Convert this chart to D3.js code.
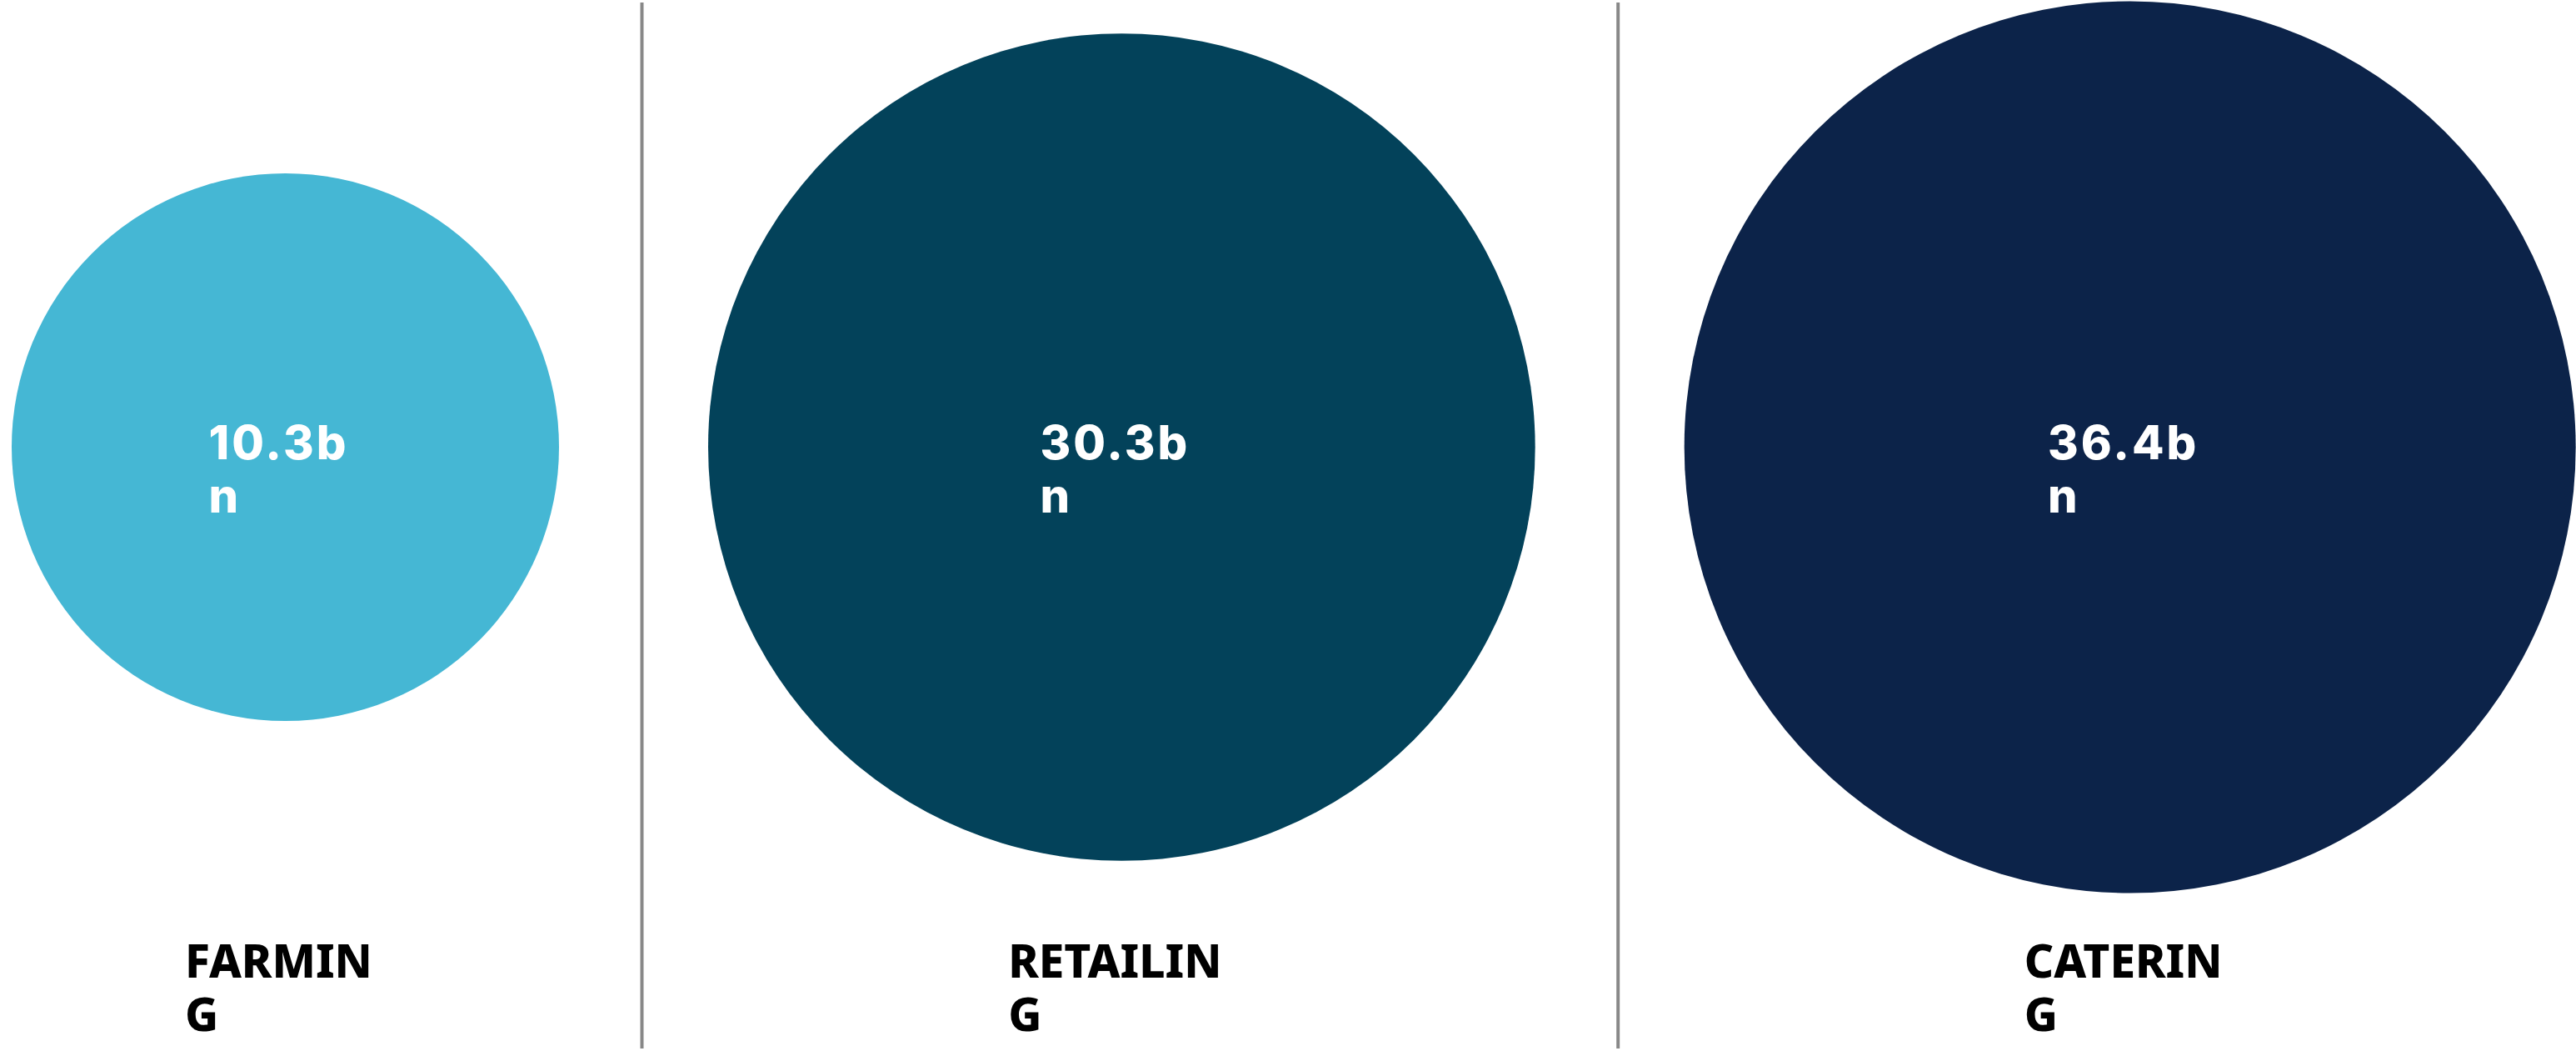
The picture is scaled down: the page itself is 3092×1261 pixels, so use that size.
<!DOCTYPE html>
<html>
<head>
<meta charset="UTF-8">
<title>sectors</title>
<script src="https://cdn.jsdelivr.net/npm/d3@7"></script>
<style>
  html, body { margin: 0; padding: 0; background: #fff; }
</style>
</head>
<body>
<svg width="3092" height="1261"></svg>
<script>
  // data
  var sectors = ["FARMING", "RETAILING", "CATERING"];
  var values = [10.3, 30.3, 36.4];
  var valueLabels = ["10.3bn", "30.3bn", "36.4bn"];
  var colors = ["#45b7d4", "#03425a", "#0c2349"];

  var svg = d3.select("svg");
  var width = +svg.attr("width");
  var height = +svg.attr("height");

  var left = 14, gap = 179, cy = 536.5;

  // radius grows with sqrt of value
  var r = d3.scalePow().exponent(0.5)
    .domain(d3.extent(values))
    .range([328.5, 535]);

  // lay circles out one after another
  var nodes = [];
  var x = left;
  values.forEach(function(v, i) {
    var rad = r(v);
    nodes.push({name: sectors[i], value: v, label: valueLabels[i], color: colors[i], r: rad, cx: x + rad});
    x += rad * 2 + gap;
  });

  // dividers
  svg.append("g").selectAll("line")
    .data(nodes.slice(0, -1))
    .enter().append("line")
    .attr("x1", function(d) { return d.cx + d.r + gap / 2 + 10; })
    .attr("x2", function(d) { return d.cx + d.r + gap / 2 + 10; })
    .attr("y1", 3)
    .attr("y2", height - 3)
    .attr("stroke", "#888")
    .attr("stroke-width", 4);

  var gs = svg.append("g").selectAll("g")
    .data(nodes)
    .enter().append("g");

  gs.append("circle")
    .attr("cx", function(d) { return d.cx; })
    .attr("cy", cy)
    .attr("r", function(d) { return d.r; })
    .attr("fill", function(d) { return d.color; });

  // break a word by characters into lines no wider than maxW
  function wrapChars(textSel, str, maxW) {
    var lines = [];
    var cur = "";
    var probe = textSel.append("tspan");
    for (var i = 0; i < str.length; i++) {
      var test = cur + str[i];
      probe.text(test);
      if (cur && probe.node().getComputedTextLength() > maxW) {
        lines.push(cur);
        cur = str[i];
      } else {
        cur = test;
      }
    }
    lines.push(cur);
    probe.remove();
    return lines;
  }

  function block(sel, getStr, maxW, y0, lh, style) {
    sel.each(function(d) {
      var t = d3.select(this).append("text")
        .attr("font-family", style.family)
        .attr("font-weight", style.weight)
        .attr("font-size", style.size)
        .attr("letter-spacing", style.spacing)
        .attr("fill", style.fill);
      var lines = wrapChars(t, getStr(d), maxW);
      var spans = lines.map(function(l, i) {
        return t.append("tspan").attr("y", y0 + i * lh).text(l);
      });
      var w = d3.max(spans, function(s) { return s.node().getComputedTextLength(); });
      var x0 = d.cx - 8 - w / 2;
      spans.forEach(function(s) { s.attr("x", x0); });
    });
  }

  block(gs, function(d) { return d.label; }, 192, 551, 64,
    {family: "Inter, 'Noto Sans', sans-serif", weight: 800, size: 56, spacing: 3, fill: "#fff"});

  block(gs, function(d) { return d.name; }, 262, 1173, 64,
    {family: "'Noto Sans', 'Open Sans', sans-serif", weight: 800, size: 55, spacing: 0, fill: "#000"});
</script>
</body>
</html>
